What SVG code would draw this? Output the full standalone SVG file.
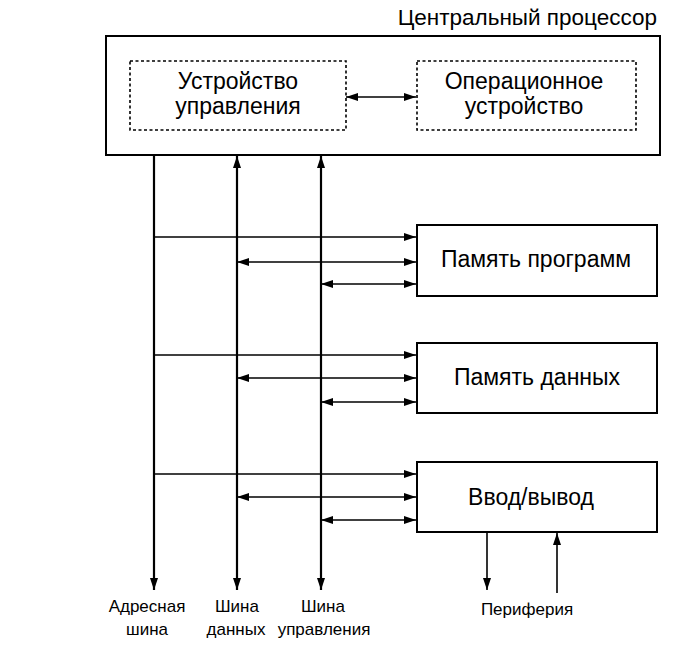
<svg xmlns="http://www.w3.org/2000/svg" width="688" height="649" viewBox="0 0 688 649">
<style>
  text { font-family: "Liberation Sans", Arial, sans-serif; fill: #000; }
  .lbl { font-size: 23px; text-anchor: middle; }
  .small { font-size: 17px; text-anchor: middle; }
  .box { fill: #fff; stroke: #000; stroke-width: 2; }
  .dash { fill: none; stroke: #000; stroke-width: 1.6; stroke-dasharray: 3 2.5; }
  .bus { stroke: #000; stroke-width: 2.2; fill: none; }
  .ln { stroke: #000; stroke-width: 1.6; fill: none; }
</style>
<defs>
  <marker id="ah" viewBox="0 0 12 8" refX="12" refY="4" markerWidth="12" markerHeight="8" markerUnits="userSpaceOnUse" orient="auto-start-reverse">
    <path d="M0,0 L12,4 L0,8 z" fill="#000"/>
  </marker>
</defs>
<rect width="688" height="649" fill="#fff"/>

<g id="cpu">
  <rect class="box" x="106" y="36" width="554" height="119"/>
  <text x="657" y="25" style="font-size:22.5px" text-anchor="end">Центральный процессор</text>
</g>
<g id="control-unit">
  <rect class="dash" x="130" y="61" width="216" height="69"/>
  <text class="lbl" x="238" y="89">Устройство</text>
  <text class="lbl" x="238" y="114">управления</text>
</g>
<g id="alu">
  <rect class="dash" x="417" y="61" width="219" height="69"/>
  <text class="lbl" x="524" y="89">Операционное</text>
  <text class="lbl" x="524" y="114">устройство</text>
</g>
<g id="prog-mem">
  <rect class="box" x="417" y="225" width="240" height="71"/>
  <text class="lbl" x="536" y="267">Память программ</text>
</g>
<g id="data-mem">
  <rect class="box" x="417" y="343" width="240" height="70"/>
  <text class="lbl" x="537" y="385">Память данных</text>
</g>
<g id="io">
  <rect class="box" x="417" y="462" width="240" height="70"/>
  <text class="lbl" x="531" y="505">Ввод/вывод</text>
</g>
<g id="labels">
  <text class="small" x="147" y="612">Адресная</text>
  <text class="small" x="147" y="635">шина</text>
  <text class="small" x="237" y="612">Шина</text>
  <text class="small" x="236" y="635">данных</text>
  <text class="small" x="323" y="612">Шина</text>
  <text class="small" x="324" y="635">управления</text>
  <text class="small" x="527" y="615">Периферия</text>
</g>

<g id="connectors">
  <line class="ln" x1="346" y1="97" x2="416" y2="97" marker-start="url(#ah)" marker-end="url(#ah)"/>
  <line class="bus" x1="154" y1="155" x2="154" y2="590" marker-end="url(#ah)"/>
  <line class="bus" x1="237" y1="590" x2="237" y2="156" marker-start="url(#ah)" marker-end="url(#ah)"/>
  <line class="bus" x1="321" y1="590" x2="321" y2="156" marker-start="url(#ah)" marker-end="url(#ah)"/>

  <line class="ln" x1="154" y1="237" x2="416" y2="237" marker-end="url(#ah)"/>
  <line class="ln" x1="237" y1="262" x2="416" y2="262" marker-start="url(#ah)" marker-end="url(#ah)"/>
  <line class="ln" x1="321" y1="284" x2="416" y2="284" marker-start="url(#ah)" marker-end="url(#ah)"/>

  <line class="ln" x1="154" y1="355" x2="416" y2="355" marker-end="url(#ah)"/>
  <line class="ln" x1="237" y1="378" x2="416" y2="378" marker-start="url(#ah)" marker-end="url(#ah)"/>
  <line class="ln" x1="321" y1="402" x2="416" y2="402" marker-start="url(#ah)" marker-end="url(#ah)"/>

  <line class="ln" x1="154" y1="474" x2="416" y2="474" marker-end="url(#ah)"/>
  <line class="ln" x1="237" y1="497" x2="416" y2="497" marker-start="url(#ah)" marker-end="url(#ah)"/>
  <line class="ln" x1="321" y1="520" x2="416" y2="520" marker-start="url(#ah)" marker-end="url(#ah)"/>

  <line class="ln" x1="487" y1="532" x2="487" y2="590" marker-end="url(#ah)"/>
  <line class="ln" x1="557" y1="593" x2="557" y2="533" marker-end="url(#ah)"/>
</g>
</svg>
